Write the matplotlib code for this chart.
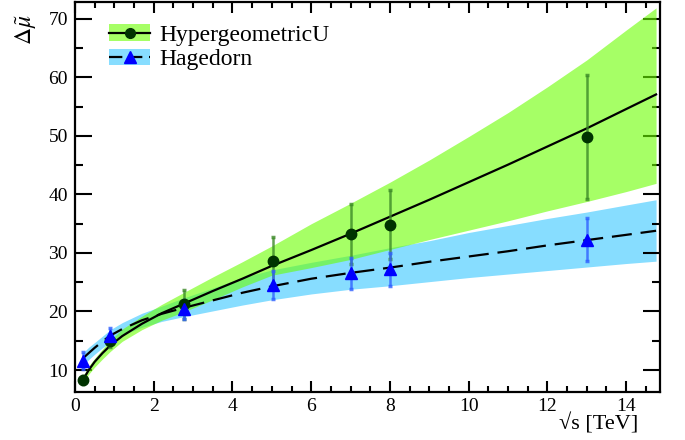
import matplotlib
matplotlib.use('Agg')
import matplotlib.pyplot as plt
from matplotlib.patches import Patch
from matplotlib.lines import Line2D
from matplotlib.legend_handler import HandlerTuple
from matplotlib.ticker import MultipleLocator

# ---------------- data ----------------
x_data = [0.2, 0.9, 2.76, 5.02, 7.0, 8.0, 13.0]
hyp_y = [8.3, 15.0, 21.2, 28.6, 33.3, 34.8, 49.8]
hyp_err = [0.7, 1.0, 2.5, 4.2, 5.1, 5.9, 10.6]
hag_y = [11.6, 15.8, 20.4, 24.5, 26.5, 27.2, 32.3]
hag_err = [1.4, 1.4, 1.6, 2.4, 2.7, 2.8, 3.6]

curve_x = [0.2, 0.35, 0.5, 0.7, 0.9, 1.2, 1.7, 2.2, 2.75, 3.5, 4.25, 5.0,
           6.0, 7.0, 8.0, 9.0, 10.0, 11.0, 12.0, 13.0, 14.0, 14.76]
hyp_fit = [8.3, 10.0, 11.4, 12.9, 14.2, 15.8, 17.9, 19.7, 21.3, 23.5, 25.6, 27.8,
           30.5, 33.3, 36.2, 39.1, 42.1, 45.1, 48.2, 51.3, 54.6, 57.1]
hyp_up = [8.9, 10.7, 12.0, 13.6, 15.1, 17.0, 19.2, 21.2, 23.2, 25.9, 28.5, 31.2,
          35.0, 38.5, 42.1, 45.9, 49.9, 54.0, 58.4, 63.0, 68.1, 71.9]
hyp_lo = [7.8, 9.3, 10.5, 11.9, 13.2, 14.9, 16.9, 18.5, 19.9, 22.0, 24.2, 26.2,
          27.5, 28.9, 30.6, 32.3, 33.9, 35.5, 37.2, 38.8, 40.5, 41.9]
hag_fit = [12.0, 12.9, 13.8, 14.9, 15.9, 17.0, 18.5, 19.6, 20.6, 21.9, 23.2, 24.3,
           25.6, 26.6, 27.5, 28.5, 29.4, 30.3, 31.3, 32.2, 33.1, 33.8]
hag_up = [12.9, 13.9, 14.7, 15.8, 16.9, 18.1, 19.7, 20.9, 22.3, 24.0, 25.8, 27.1,
          28.4, 29.6, 30.9, 32.1, 33.5, 34.7, 35.9, 37.0, 38.2, 39.1]
hag_lo = [10.8, 11.8, 12.7, 13.8, 14.8, 16.0, 17.3, 18.3, 19.1, 20.1, 21.1, 22.0,
          23.0, 23.8, 24.4, 25.1, 25.8, 26.4, 27.0, 27.6, 28.2, 28.6]

labels = ['HypergeometricU', 'Hagedorn']
x_ticks = [0, 2, 4, 6, 8, 10, 12, 14]
y_ticks = [10, 20, 30, 40, 50, 60, 70]

# ---------------- style ----------------
plt.rcParams['font.family'] = ['Liberation Serif', 'DejaVu Serif']
plt.rcParams['mathtext.fontset'] = 'stix'

green_band = '#6bff00'
green_alpha = 0.6
blue_band = '#87ddff'

fig = plt.figure(figsize=(6.85, 4.4), dpi=100)
ax = fig.add_axes([75 / 685, 1 - 392 / 440, (660 - 75) / 685, (392 - 2) / 440])

ax.fill_between(curve_x, hag_lo, hag_up, color=blue_band, lw=0, zorder=1)
ax.fill_between(curve_x, hyp_lo, hyp_up, color=green_band, alpha=green_alpha, lw=0, zorder=2)

ax.plot(curve_x, hyp_fit, color='black', lw=1.6, zorder=3)
ax.plot(curve_x, hag_fit, color='black', lw=1.6, linestyle=(0, (9, 4)), zorder=3)

ax.errorbar(x_data, hyp_y, yerr=hyp_err, fmt='none', ecolor='#3c8a28', alpha=0.8,
            elinewidth=1.8, capsize=1.5, capthick=2.5, zorder=4)
ax.errorbar(x_data, hag_y, yerr=hag_err, fmt='none', ecolor='#3060ff', alpha=0.8,
            elinewidth=1.8, capsize=1.5, capthick=2.5, zorder=4)
ax.plot(x_data, hyp_y, 'o', color='#003300', ms=7.5, mec='#003300', zorder=5)
ax.plot(x_data, hag_y, '^', color='#0000ff', ms=8.5, mec='#0000ff', zorder=5)

ax.set_xlim(0, 14.86)
ax.set_ylim(6.24, 72.9)
ax.set_xticks(x_ticks)
ax.set_yticks(y_ticks)
ax.xaxis.set_minor_locator(MultipleLocator(0.5))
ax.yaxis.set_minor_locator(MultipleLocator(5))
ax.tick_params(axis='both', which='both', direction='in', top=True, right=True,
               width=1.5, labelsize=14)
ax.tick_params(axis='x', which='major', length=8, pad=4)
ax.tick_params(axis='x', which='minor', length=4)
ax.tick_params(axis='y', which='major', length=12, pad=5)
ax.tick_params(axis='y', which='minor', length=6)
for s in ax.spines.values():
    s.set_linewidth(1.6)

fig.text(26 / 685, 1 - 30 / 440, r'$\Delta\tilde{\mu}$', rotation=90,
         ha='center', va='center', fontsize=17)
fig.text(638 / 685, 1 - 424 / 440, '√s [TeV]', ha='right', va='center', fontsize=16)

h1 = (Patch(facecolor=green_band, alpha=green_alpha, lw=0),
      Line2D([], [], color='black', lw=1.6, marker='o', ms=7, mfc='#003300', mec='#003300'))
h2 = (Patch(facecolor=blue_band, lw=0),
      Line2D([], [], color='black', lw=1.6, linestyle=(0, (6, 3)), marker='^', ms=8,
             mfc='#0000ff', mec='#0000ff'))
ax.legend([h1, h2], labels, handler_map={tuple: HandlerTuple(ndivide=1, pad=0)},
          loc='upper left', bbox_to_anchor=(0.05, 0.955), frameon=False, fontsize=17,
          handlelength=1.75, handleheight=0.7, handletextpad=0.4, labelspacing=0.12,
          borderpad=0.2, borderaxespad=0)

fig.savefig('out.png', dpi=100)
